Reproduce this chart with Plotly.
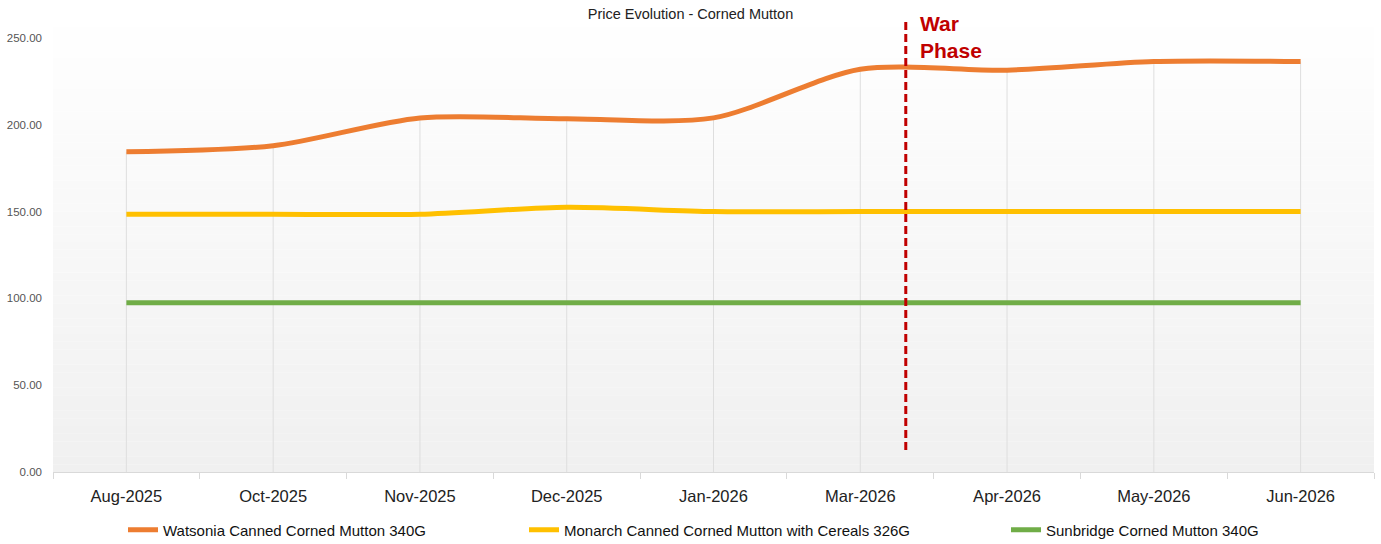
import numpy as np
import plotly.graph_objects as go

# Monthly price series
months = ["Aug-2025", "Oct-2025", "Nov-2025", "Dec-2025", "Jan-2026",
          "Mar-2026", "Apr-2026", "May-2026", "Jun-2026"]
watsonia = [184.5, 188.0, 204.0, 203.5, 204.0, 232.0, 231.5, 236.5, 236.5]
monarch = [148.5, 148.5, 148.5, 152.5, 150.0, 150.0, 150.0, 150.0, 150.0]
sunbridge = [97.5, 97.5, 97.5, 97.5, 97.5, 97.5, 97.5, 97.5, 97.5]

series_names = ["Watsonia Canned Corned Mutton 340G",
                "Monarch Canned Corned Mutton with Cereals 326G",
                "Sunbridge Corned Mutton 340G"]
series_colors = ["#ED7D31", "#FFC000", "#70AD47"]

y_ticks = [0, 50, 100, 150, 200, 250]

# War phase marker: position between Mar-2026 and Apr-2026, line extent
war_x = 5.31
war_y = [12.7, 261.5]

FONT = "Liberation Sans, Arial, sans-serif"

fig = go.Figure()

# Vertical drop lines from the highest value at each month down to zero
tops = np.max(np.array([watsonia, monarch, sunbridge]), axis=0)
dx, dy = [], []
for m, t in zip(months, tops):
    dx += [m, m, None]
    dy += [0, t, None]
fig.add_trace(go.Scatter(x=dx, y=dy, mode="lines",
                         line=dict(color="#dedede", width=1),
                         hoverinfo="skip", showlegend=False))

legend_ids = ["legend", "legend2", "legend3"]
for name, vals, col, lg in zip(series_names, [watsonia, monarch, sunbridge],
                               series_colors, legend_ids):
    fig.add_trace(go.Scatter(x=months, y=vals, name=name, mode="lines",
                             line=dict(color=col, width=5, shape="spline",
                                       smoothing=0.8),
                             legend=lg))

# Soft vertical gradient behind the plot area
n_bands = 60
for i in range(n_bands):
    f = (i + 0.5) / n_bands
    g = int(round(240 + (255 - 240) * f))
    fig.add_shape(type="rect", xref="x domain", yref="y domain",
                  x0=0, x1=1, y0=i / n_bands, y1=(i + 1) / n_bands,
                  fillcolor=f"rgb({g},{g},{g})", line_width=0, layer="below")

# War phase dashed marker
fig.add_shape(type="line", xref="x", yref="y",
              x0=war_x, x1=war_x, y0=war_y[0], y1=war_y[1],
              line=dict(color="#C00000", width=3, dash="8px,4px"))
fig.add_annotation(x=war_x, y=1, xref="x", yref="paper",
                   xanchor="left", yanchor="top", xshift=12, yshift=2,
                   text="<b>War<br>Phase</b>", showarrow=False, align="left",
                   font=dict(family=FONT, size=21, color="#C00000"))

plot_left, plot_right = 53, 1374
plot_w = plot_right - plot_left
plot_bottom_px, plot_h = 472, 460


def lx(px):
    return (px - plot_left) / plot_w


leg_y = -(530 - plot_bottom_px) / plot_h
legend_style = dict(orientation="h", yanchor="middle", y=leg_y, xanchor="left",
                    bgcolor="rgba(0,0,0,0)",
                    font=dict(family=FONT, size=15, color="#111111"))

fig.update_layout(
    width=1381, height=544,
    margin=dict(l=plot_left, r=1381 - plot_right, t=544 - 72 - plot_h, b=72,
                autoexpand=False),
    paper_bgcolor="white", plot_bgcolor="white",
    font=dict(family=FONT),
    title=dict(text="Price Evolution - Corned Mutton", xref="container",
               x=0.5, xanchor="center", yref="container", y=1 - 14 / 544,
               yanchor="middle", font=dict(family=FONT, size=14.5, color="#222222")),
    legend=dict(legend_style, x=lx(123)),
    legend2=dict(legend_style, x=lx(524)),
    legend3=dict(legend_style, x=lx(1006)),
    xaxis=dict(type="category", range=[-0.5, 8.5], showgrid=False,
               showline=True, linecolor="#d9d9d9", linewidth=1,
               ticks="outside", tickson="boundaries", ticklen=6,
               tickcolor="#d9d9d9", ticklabelstandoff=9,
               tickfont=dict(family=FONT, size=16.5, color="#222222"),
               zeroline=False),
    yaxis=dict(range=[0, 265], tickvals=y_ticks,
               ticktext=[f"{v:.2f}" for v in y_ticks],
               showgrid=False, zeroline=False, showline=False,
               ticklabelstandoff=10,
               tickfont=dict(family=FONT, size=11.5, color="#555555")),
)

fig.write_html("out.html")
